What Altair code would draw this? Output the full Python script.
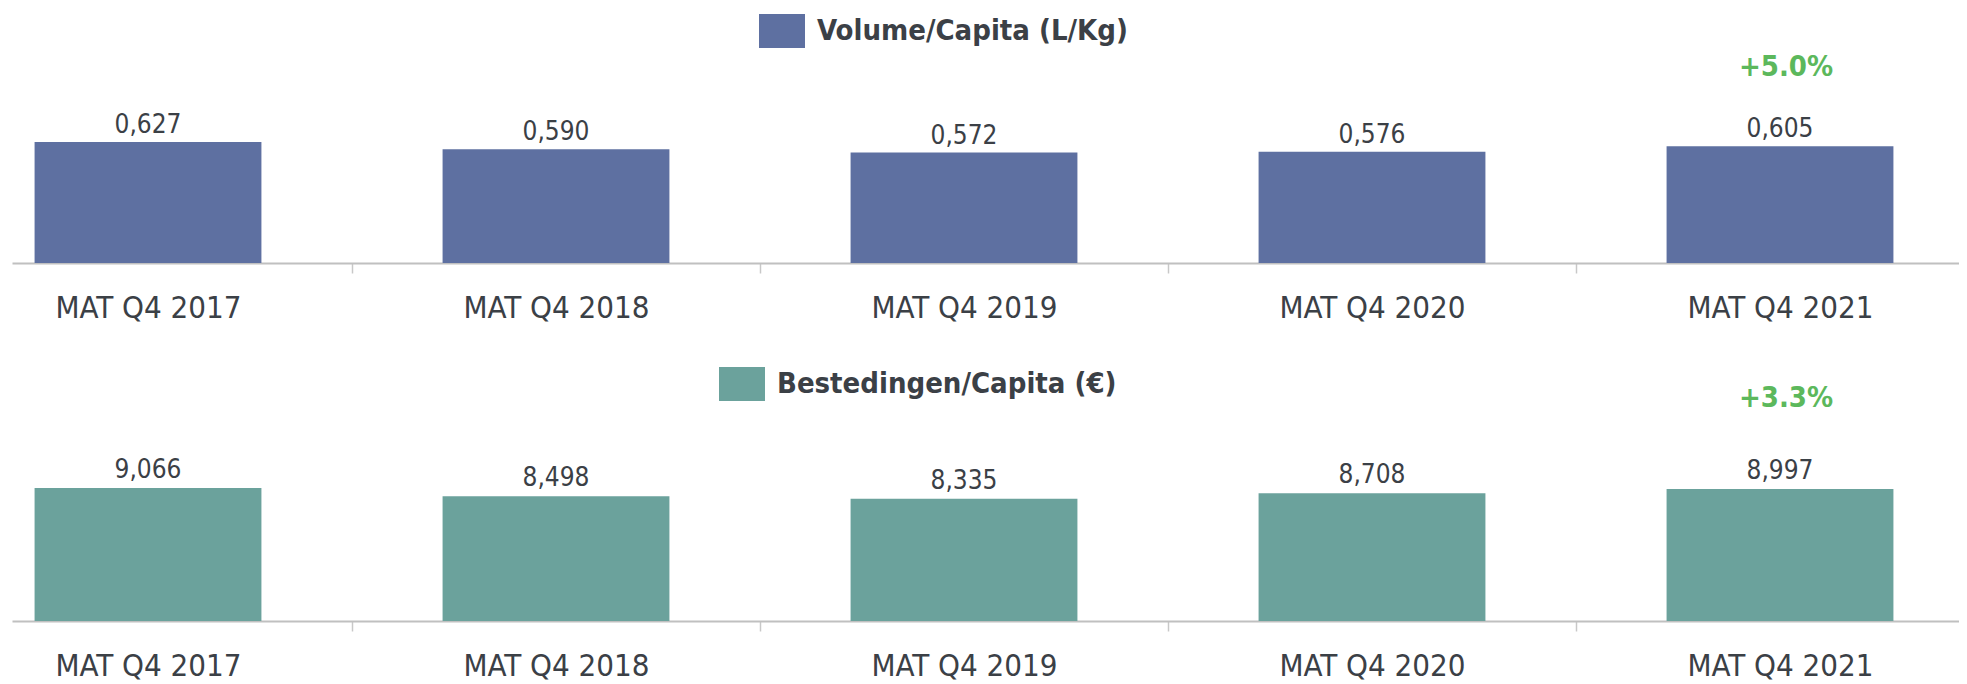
import json
import altair as alt
import pandas as pd

# ---- data ----
categories = ["MAT Q4 2017", "MAT Q4 2018", "MAT Q4 2019", "MAT Q4 2020", "MAT Q4 2021"]
volume_values = [0.627, 0.590, 0.572, 0.576, 0.605]
spend_values = [9.066, 8.498, 8.335, 8.708, 8.997]
series_names = ["Volume/Capita (L/Kg)", "Bestedingen/Capita (€)"]
change_labels = ["+5.0%", "+3.3%"]

# ---- styling ----
FONT = "DejaVu Sans Condensed, DejaVu Sans, sans-serif"
TEXT = "#3b4046"
GREEN = "#5cb85c"
COLORS = ["#5e70a1", "#6ba29c"]
W = 1947
STEP = 408.0
X0 = 136.0
XDOM = [-X0 / STEP, -X0 / STEP + W / STEP]
HALF = 0.278
LEGEND_SYMBOL = "M-1,-0.74H1V0.74H-1Z"

label_expr = "datum.value % 1 === 0 ? " + json.dumps(categories) + "[datum.value] : ''"
axis_values = [i * 0.5 for i in range(2 * len(categories) - 1)]


def make_axis():
    return alt.Axis(
        values=axis_values,
        labelExpr=label_expr,
        tickOpacity={"condition": {"test": "datum.value % 1 === 0", "value": 0}, "value": 1},
        grid=False,
        domainColor="#c0c0c0",
        domainWidth=2,
        tickColor="#c8c8c8",
        tickWidth=1.5,
        tickSize=10,
        labelFont=FONT,
        labelFontSize=31,
        labelColor=TEXT,
        labelBaseline="alphabetic",
        labelPadding=44,
        labelFlush=False,
        labelOverlap=False,
        labelBound=False,
        labelLimit=0,
        title=None,
    )


def panel(vals, series, color, change, H, D, lx, ly, cy, dy):
    df = pd.DataFrame({
        "cat": categories,
        "idx": list(range(len(categories))),
        "value": vals,
        "series": [series] * len(categories),
    })
    xscale = alt.Scale(domain=XDOM, nice=False, zero=False)
    yscale = alt.Scale(domain=[0, D], nice=False, zero=True)
    base = alt.Chart(df).transform_calculate(
        x1=f"datum.idx - {HALF}",
        x2=f"datum.idx + {HALF}",
        label="replace(format(datum.value, '.3f'), '.', ',')",
    )
    bars = base.mark_bar().encode(
        x=alt.X("x1:Q", scale=xscale, axis=make_axis(), title=None),
        x2="x2:Q",
        y=alt.Y("value:Q", scale=yscale, axis=None),
        y2=alt.datum(0),
        color=alt.Color(
            "series:N",
            scale=alt.Scale(domain=[series], range=[color]),
            legend=alt.Legend(
                orient="none",
                legendX=lx,
                legendY=ly,
                title=None,
                symbolType=LEGEND_SYMBOL,
                symbolSize=2116,
                symbolStrokeWidth=0,
                symbolStrokeColor=color,
                symbolFillColor=color,
                symbolOpacity=1,
                labelFont=FONT,
                labelFontSize=29,
                labelFontWeight="bold",
                labelColor=TEXT,
                labelOffset=12,
                labelLimit=0,
                padding=0,
            ),
        ),
    )
    texts = base.mark_text(
        font=FONT, fontSize=26, color=TEXT, baseline="alphabetic", align="center", dy=dy
    ).encode(
        x=alt.X("idx:Q", scale=xscale, axis=make_axis(), title=None),
        y=alt.Y("value:Q", scale=yscale, axis=None),
        text="label:N",
    )
    cdf = pd.DataFrame({"idx": [len(categories) - 1], "txt": [change]})
    chg = alt.Chart(cdf).mark_text(
        font=FONT, fontSize=29, fontWeight="bold", color=GREEN, baseline="middle", align="center", dx=6
    ).encode(
        x=alt.X("idx:Q", scale=xscale, axis=make_axis(), title=None),
        y=alt.value(cy),
        text="txt:N",
    )
    return alt.layer(bars, texts, chg).properties(width=W, height=H)


top = panel(volume_values, series_names[0], COLORS[0], change_labels[0],
            H=255, D=255 / 193.0, lx=747, ly=0, cy=59, dy=-9)
bottom = panel(spend_values, series_names[1], COLORS[1], change_labels[1],
               H=281, D=281 / 14.67, lx=707, ly=21, cy=58, dy=-10)

chart = alt.vconcat(top, bottom, spacing=77, bounds="flush").resolve_scale(
    color="independent", x="independent", y="independent"
).properties(
    padding={"left": 4, "top": 0, "right": 0, "bottom": 0},
    background="white",
).configure_view(stroke=None)

chart.save("out.html", embed_options={"renderer": "svg", "actions": False})
